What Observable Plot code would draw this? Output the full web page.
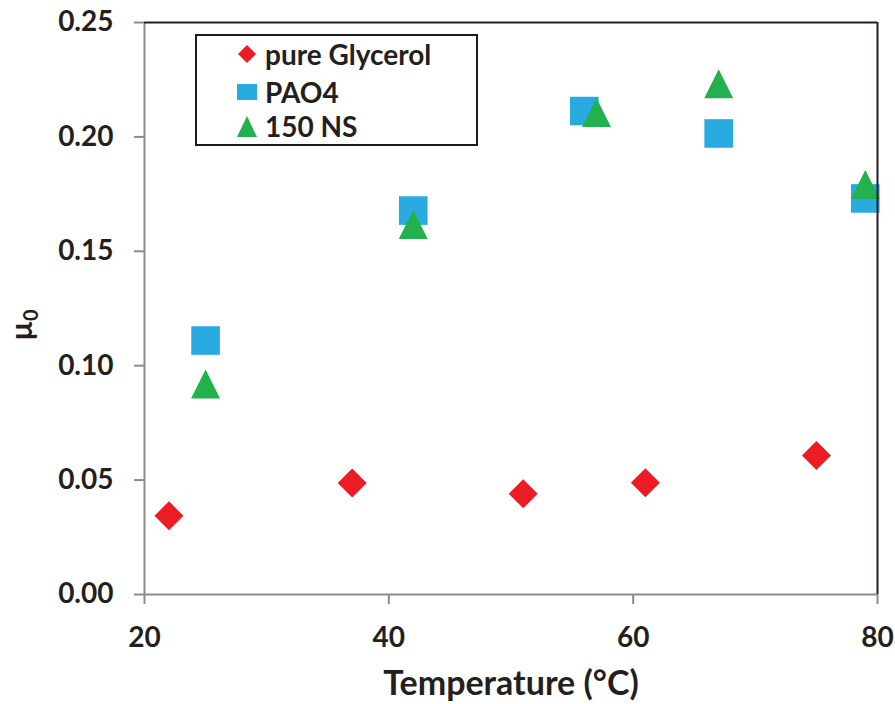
<!DOCTYPE html>
<html><head><meta charset="utf-8">
<script src="https://cdn.jsdelivr.net/npm/d3@7"></script>
<script src="https://cdn.jsdelivr.net/npm/@observablehq/plot@0.6"></script>
<style>
body{margin:0;background:#fff;}
#wrap{position:relative;width:895px;height:704px;font-family:Lato,sans-serif;}
#legend{position:absolute;left:195px;top:34px;width:283px;height:112px;box-sizing:border-box;border:2px solid #1a1a1a;background:#fff;}
.row{position:absolute;left:40px;height:30px;display:flex;align-items:center;font-weight:bold;font-size:28px;color:#231f20;white-space:nowrap;}
.row svg{margin-right:8px;}
</style></head><body><div id="wrap"></div>
<script>
// ---- data ----
const seriesNames = ["pure Glycerol", "PAO4", "150 NS"];
const glycerolT  = [22, 37, 51, 61, 75];
const glycerolMu = [0.0344, 0.0487, 0.0440, 0.0488, 0.0608];
const pao4T  = [25, 42, 56, 67, 79];
const pao4Mu = [0.111, 0.1678, 0.2113, 0.2015, 0.1731];
const ns150T  = [25, 42, 57, 67, 79];
const ns150Mu = [0.092, 0.1617, 0.2107, 0.2232, 0.1792];
const xTicks = [20, 40, 60, 80];
const yTicks = [0, 0.05, 0.10, 0.15, 0.20, 0.25];
const xLabel = "Temperature (°C)";

const colors = ["#ED1C24", "#29ABE2", "#22B14C"];
const toRows = (ts, ms, s) => ts.map((t, i) => ({series: s, t, mu: ms[i]}));
const gly = toRows(glycerolT, glycerolMu, seriesNames[0]);
const pao = toRows(pao4T, pao4Mu, seriesNames[1]);
const ns = toRows(ns150T, ns150Mu, seriesNames[2]);

const half = s => Math.sqrt(s / Math.PI);
const diamondSym = {draw(c, s){const h = half(s); c.moveTo(0,-h); c.lineTo(h,0); c.lineTo(0,h); c.lineTo(-h,0); c.closePath();}};
const squareSym = {draw(c, s){const h = half(s); c.moveTo(-h,-h); c.lineTo(h,-h); c.lineTo(h,h); c.lineTo(-h,h); c.closePath();}};
const triSym = {draw(c, s){const h = half(s); c.moveTo(0,-h); c.lineTo(h,h); c.lineTo(-h,h); c.closePath();}};

const gray = "#8c8c8c", ink = "#231f20";
const chart = Plot.plot({
  width: 895, height: 704,
  marginLeft: 144, marginRight: 18, marginTop: 22, marginBottom: 110,
  style: {fontFamily: "Lato, sans-serif", fontWeight: "bold", color: ink, background: "#fff"},
  x: {domain: [20, 80]},
  y: {domain: [0, 0.25]},
  marks: [
    Plot.axisY({ticks: yTicks, tickFormat: d3.format(".2f"), tickSize: 10, tickPadding: 21, fontSize: 28, stroke: gray, strokeWidth: 2, label: null}),
    Plot.axisX({ticks: xTicks, tickSize: 10, tickPadding: 23, fontSize: 28, stroke: gray, strokeWidth: 2, label: null}),
    Plot.dot(gly, {x: "t", y: "mu", symbol: diamondSym, r: 14.5, fill: colors[0], stroke: "none"}),
    Plot.dot(pao, {x: "t", y: "mu", symbol: squareSym, r: 14.3, fill: colors[1], stroke: "none"}),
    Plot.dot(ns, {x: "t", y: "mu", symbol: triSym, r: 14.5, fill: colors[2], stroke: "none"}),
    Plot.ruleX([20], {stroke: gray, strokeWidth: 2}),
    Plot.ruleY([0], {stroke: gray, strokeWidth: 2}),
    Plot.ruleY([0.25], {stroke: ink, strokeWidth: 2}),
    Plot.ruleX([80], {stroke: ink, strokeWidth: 2}),
    Plot.text([xLabel], {frameAnchor: "bottom", dy: 90, fontSize: 34, fontWeight: "bold", fill: ink, lineAnchor: "middle"})
  ]
});

// y-axis title with subscript
const yl = d3.select(chart).append("text")
  .attr("transform", "translate(32,325) rotate(-90)")
  .attr("text-anchor", "middle")
  .attr("fill", ink)
  .style("font-family", "Lato, sans-serif").style("font-weight", "bold").style("font-size", "30px");
yl.append("tspan").text("µ");
yl.append("tspan").attr("dy", 6).style("font-size", "20px").text("0");

const wrap = document.getElementById("wrap");
wrap.appendChild(chart);

// legend
const legend = document.createElement("div");
legend.id = "legend";
const legendSyms = [
  '<svg width="20" height="20"><path d="M10,1L19,10L10,19L1,10Z" fill="' + colors[0] + '"/></svg>',
  '<svg width="20" height="20"><rect x="0" y="2" width="20" height="16" fill="' + colors[1] + '"/></svg>',
  '<svg width="20" height="21"><path d="M10,0L20,21L0,21Z" fill="' + colors[2] + '"/></svg>'
];
const rowCenters = [18, 56, 90];
seriesNames.forEach((name, i) => {
  const r = document.createElement("div");
  r.className = "row";
  r.style.top = (rowCenters[i] - 15) + "px";
  r.innerHTML = legendSyms[i] + '<span>' + name + '</span>';
  legend.appendChild(r);
});
wrap.appendChild(legend);
</script></body></html>
